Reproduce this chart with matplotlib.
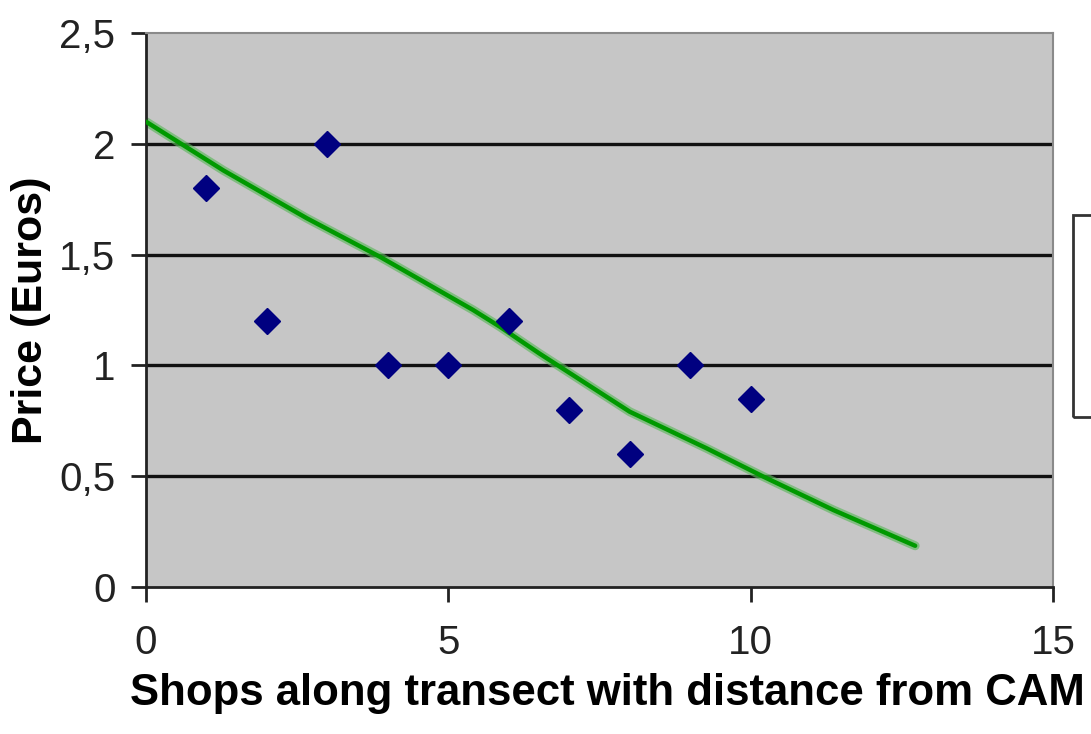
#!/usr/bin/env python3
"""
Shop prices along a transect, with trendline
"""

import matplotlib
matplotlib.use('Agg')
import matplotlib.pyplot as plt
from matplotlib.patches import Rectangle

# shop index along the transect and price in euros
shops = [1, 2, 3, 4, 5, 6, 7, 8, 9, 10]
prices = [1.8, 1.2, 2.0, 1.0, 1.0, 1.2, 0.8, 0.6, 1.0, 0.85]

# trendline
trend_x = [0.0, 1.28, 2.66, 3.87, 5.41, 5.85, 6.51, 8.0, 9.27,
           10.21, 11.37, 12.72]
trend_y = [2.10, 1.88, 1.664, 1.49, 1.25, 1.175, 1.053, 0.791, 0.626,
           0.498, 0.347, 0.186]

x_ticks = [0, 5, 10, 15]
y_ticks = [0, 0.5, 1, 1.5, 2, 2.5]
y_tick_labels = ['0', '0,5', '1', '1,5', '2', '2,5']

plt.rcParams['font.family'] = ['Liberation Sans', 'DejaVu Sans']

fig = plt.figure(figsize=(10.91, 7.34), dpi=100)
ax = fig.add_axes([0.1338, 0.2003, 0.8314, 0.7547])
ax.set_facecolor('#c6c6c6')

for y in y_ticks[1:-1]:
    ax.axhline(y, color='#111111', linewidth=2.4, zorder=1)

# trendline with a light halo
ax.plot(trend_x, trend_y, color='#5cb85c', linewidth=6.5, alpha=0.65,
        solid_capstyle='round', solid_joinstyle='round', zorder=2)
ax.plot(trend_x, trend_y, color='#009900', linewidth=3.2,
        solid_capstyle='round', solid_joinstyle='round', zorder=3)

ax.plot(shops, prices, linestyle='none', marker='D', markersize=13,
        color='#000080', zorder=4)

ax.set_xlim(0, 15)
ax.set_ylim(0, 2.5)
ax.set_xticks(x_ticks)
ax.set_yticks(y_ticks)
ax.set_yticklabels(y_tick_labels)

for side in ['top', 'right']:
    ax.spines[side].set_color('#8a8a8a')
    ax.spines[side].set_linewidth(1.5)
for side in ['left', 'bottom']:
    ax.spines[side].set_color('#222222')
    ax.spines[side].set_linewidth(2)

ax.tick_params(axis='both', direction='out', length=11, width=2,
               color='#222222', labelsize=29, labelcolor='#222222')
ax.tick_params(axis='y', pad=11)
ax.tick_params(axis='x', pad=16)

ax.set_xlabel('Shops along transect with distance from CAM',
              fontsize=31.5, fontweight='bold')
ax.xaxis.set_label_coords(0.509, -0.155)
ax.set_ylabel('Price (Euros)', fontsize=31, fontweight='bold', labelpad=6)

# legend box, cut off at the right edge
fig.patches.append(Rectangle((1073 / 1091, 1 - 417 / 734), 0.05, 202 / 734,
                             transform=fig.transFigure, fill=False,
                             edgecolor='#333333', linewidth=2))

plt.savefig('out.png', dpi=100)
print("Saved plot: out.png")
